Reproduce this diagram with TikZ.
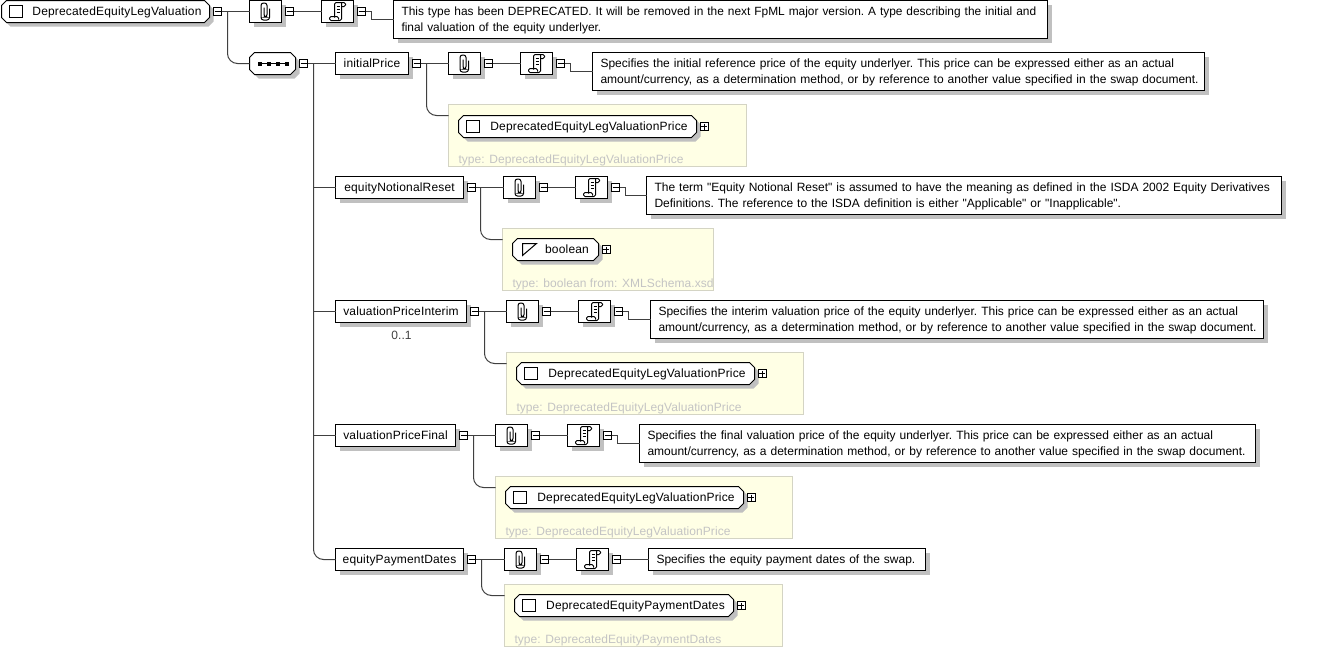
\documentclass[tikz,border=0pt]{standalone}
\usepackage{fontspec}
\newfontfamily\docfont{Liberation Sans}
\newfontfamily\labelfont[LetterSpace=1.4]{Liberation Sans}
\newfontfamily\typefont[LetterSpace=0.6]{Liberation Sans}
\usepackage{xcolor}
\usetikzlibrary{shadows}

\definecolor{wiregray}{HTML}{404040}
\definecolor{shadegray}{HTML}{C0C0C0}
\definecolor{typefill}{HTML}{FFFFE5}
\definecolor{typeline}{HTML}{D4D4C4}
\definecolor{typetext}{HTML}{C4C4C4}

\makeatletter
\pgfdeclareshape{octbox}{
  \inheritsavedanchors[from=rectangle]
  \inheritanchorborder[from=rectangle]
  \inheritanchor[from=rectangle]{center}
  \inheritanchor[from=rectangle]{base}
  \inheritanchor[from=rectangle]{north}
  \inheritanchor[from=rectangle]{south}
  \inheritanchor[from=rectangle]{east}
  \inheritanchor[from=rectangle]{west}
  \backgroundpath{
    \southwest \pgf@xa=\pgf@x \pgf@ya=\pgf@y
    \northeast \pgf@xb=\pgf@x \pgf@yb=\pgf@y
    \pgfpathmoveto{\pgfpoint{\pgf@xa+5pt}{\pgf@ya}}
    \pgfpathlineto{\pgfpoint{\pgf@xb-5pt}{\pgf@ya}}
    \pgfpathlineto{\pgfpoint{\pgf@xb}{\pgf@ya+5pt}}
    \pgfpathlineto{\pgfpoint{\pgf@xb}{\pgf@yb-5pt}}
    \pgfpathlineto{\pgfpoint{\pgf@xb-5pt}{\pgf@yb}}
    \pgfpathlineto{\pgfpoint{\pgf@xa+5pt}{\pgf@yb}}
    \pgfpathlineto{\pgfpoint{\pgf@xa}{\pgf@yb-5pt}}
    \pgfpathlineto{\pgfpoint{\pgf@xa}{\pgf@ya+5pt}}
    \pgfpathclose
  }
}
\makeatother

\begin{document}
\begin{tikzpicture}[x=1pt, y=-1pt, xshift=.5pt, yshift=-.5pt, line width=1pt, inner sep=0pt, outer sep=0pt, font=\fontsize{12}{16}\docfont\frenchspacing]
\tikzstyle{shade}=[drop shadow={shadow xshift=4pt, shadow yshift=-4pt, fill=shadegray, opacity=1}]
\tikzstyle{wire}=[color=wiregray]
\tikzstyle{elem}=[draw, fill=white, shade, minimum height=22pt, font=\fontsize{12}{16}\labelfont, text height=10.5pt, text depth=2.5pt]
\tikzstyle{doc}=[draw, fill=white, shade, align=left, inner xsep=8pt, minimum height=38pt, text height=11pt, text depth=20pt]
\tikzstyle{oct}=[shape=octbox, draw, fill=white, shade, minimum height=22pt, font=\fontsize{12}{16}\labelfont, text height=10.5pt, text depth=2.5pt]
\tikzstyle{complex}=[oct, execute at begin node=\hspace*{23pt}, path picture={
  \draw[fill=white] ([shift={(8,-6)}]path picture bounding box.west) rectangle ([shift={(21,6)}]path picture bounding box.west);}]
\tikzstyle{simple}=[oct, execute at begin node=\hspace*{23pt}, path picture={
  \draw ([shift={(10,-6)}]path picture bounding box.west) -- ([shift={(24,-6)}]path picture bounding box.west) -- ([shift={(10,6)}]path picture bounding box.west) -- cycle;}]
\tikzstyle{sequence}=[oct, path picture={
  \draw[black] ([shift={(-13,0)}]path picture bounding box.center) -- ([shift={(13,0)}]path picture bounding box.center);
  \foreach \dotx in {-13,-4,5,14}
    \fill[black] ([shift={(\dotx-2,-2)}]path picture bounding box.center) rectangle ([shift={(\dotx+2,2)}]path picture bounding box.center);}]
\tikzstyle{minus}=[draw, fill=white, minimum size=8pt, path picture={
  \draw[shift={(path picture bounding box.center)}] (-3,0) -- (3,0);}]
\tikzstyle{plus}=[draw, fill=white, minimum size=8pt, path picture={
  \draw[shift={(path picture bounding box.center)}] (-3,0) -- (3,0) (0,-3) -- (0,3);}]
\tikzstyle{clipbox}=[draw, fill=white, shade, minimum width=32pt, minimum height=22pt, path picture={
  \draw[shift={(path picture bounding box.center)}, rounded corners=2.5pt] (4,-3) -- (4,8.5) -- (-4.5,8.5) -- (-4.5,-8.5) -- (1.5,-8.5) -- (1.5,5.5) -- (-1.5,5.5) -- (-1.5,-4);}]
\tikzstyle{scrollbox}=[draw, fill=white, shade, minimum width=32pt, minimum height=22pt, path picture={
  \draw[shift={(path picture bounding box.center)}, rounded corners=1.5pt] (-3,6) -- (-3,-9) -- (8,-9) -- (8,-5) -- (4,-5);
  \draw[shift={(path picture bounding box.center)}, rounded corners=1.5pt] (4,-9) -- (4,9) -- (-8,9) -- (-8,5) -- (1,5) -- (1,8);
  \draw[shift={(path picture bounding box.center)}] (-1,-5) -- (2,-5) (-1,-2) -- (2,-2) (-1,1) -- (2,1);}]
\tikzstyle{typebox}=[draw=typeline, fill=typefill, minimum height=62pt]
\tikzstyle{typelabel}=[text=typetext, anchor=base west, font=\fontsize{12}{16}\typefont]

\useasboundingbox (-.5,-.5) rectangle (1321.5,647.5);

% root
\node[complex, minimum width=208pt] (root) at (105,11) {DeprecatedEquityLegValuation};
\node[minus] (m0) [node distance=112pt, right of=root] {};
\node[clipbox] (c0) [node distance=48pt, right of=m0] {};
\node[minus] (m0a) [node distance=24pt, right of=c0] {};
\node[scrollbox] (s0) [node distance=48pt, right of=m0a] {};
\node[minus] (m0b) [node distance=24pt, right of=s0] {};
\node[doc, text width=638pt, font=\fontsize{11.9}{16}\docfont\frenchspacing] (d0) at (720,19) {\mbox{This type has been DEPRECATED. It will be removed in the next FpML major version. A type describing the initial and}\\final valuation of the equity underlyer.};

\node[sequence, minimum width=46pt] (sq) at (272,63) {};
\node[minus] (msq) [node distance=31pt, right of=sq] {};

% initialPrice
\node[elem, minimum width=73pt] (e1) at (371.5,63) {initialPrice};
\node[minus] (m1) [node distance=44.5pt, right of=e1] {};
\node[clipbox] (c1) [node distance=48pt, right of=m1] {};
\node[minus] (m1a) [node distance=24pt, right of=c1] {};
\node[scrollbox] (s1) [node distance=48pt, right of=m1a] {};
\node[minus] (m1b) [node distance=24pt, right of=s1] {};
\node[doc, text width=596pt] (d1) at (898,71) {\mbox{Specifies the initial reference price of the equity underlyer. This price can be expressed either as an actual}\\\mbox{amount/currency, as a determination method, or by reference to another value specified in the swap document.}};
\node[typebox, minimum width=298pt] (y1) at (597,135) {};
\node[complex, minimum width=238pt] (o1) at (577,126) {DeprecatedEquityLegValuationPrice};
\node[plus] (p1) [node distance=126.5pt, right of=o1] {};
\node[typelabel] (t1) at ([shift={(10pt,3.5pt)}]y1.south west) {type: DeprecatedEquityLegValuationPrice};

% equityNotionalReset
\node[elem, minimum width=128pt] (e2) at (399,187) {equityNotionalReset};
\node[minus] (m2) [node distance=72pt, right of=e2] {};
\node[clipbox] (c2) [node distance=48pt, right of=m2] {};
\node[minus] (m2a) [node distance=24pt, right of=c2] {};
\node[scrollbox] (s2) [node distance=48pt, right of=m2a] {};
\node[minus] (m2b) [node distance=24pt, right of=s2] {};
\node[doc, text width=619pt] (d2) at (963.5,195) {\mbox{The term "Equity Notional Reset" is assumed to have the meaning as defined in the ISDA 2002 Equity Derivatives}\\Definitions. The reference to the ISDA definition is either "Applicable" or "Inapplicable".};
\node[typebox, minimum width=211pt] (y2) at (607.5,259) {};
\node[simple, minimum width=86pt] (o2) at (555,249) {boolean};
\node[plus] (p2) [node distance=50.5pt, right of=o2] {};
\node[typelabel] (t2) at ([shift={(10pt,3.5pt)}]y2.south west) {type: boolean from: XMLSchema.xsd};

% valuationPriceInterim
\node[elem, minimum width=131pt] (e3) at (400.5,311) {valuationPriceInterim};
\node[minus] (m3) [node distance=73.5pt, right of=e3] {};
\node[clipbox] (c3) [node distance=48pt, right of=m3] {};
\node[minus] (m3a) [node distance=24pt, right of=c3] {};
\node[scrollbox] (s3) [node distance=48pt, right of=m3a] {};
\node[minus] (m3b) [node distance=24pt, right of=s3] {};
\node[doc, text width=597pt] (d3) at (956.5,319) {\mbox{Specifies the interim valuation price of the equity underlyer. This price can be expressed either as an actual}\\\mbox{amount/currency, as a determination method, or by reference to another value specified in the swap document.}};
\node[text=wiregray] (n3) at (401,335) {0..1};
\node[typebox, minimum width=297pt] (y3) at (654.5,383) {};
\node[complex, minimum width=238pt] (o3) at (635,373) {DeprecatedEquityLegValuationPrice};
\node[plus] (p3) [node distance=126.5pt, right of=o3] {};
\node[typelabel] (t3) at ([shift={(10pt,3.5pt)}]y3.south west) {type: DeprecatedEquityLegValuationPrice};

% valuationPriceFinal
\node[elem, minimum width=120pt] (e4) at (395,435) {valuationPriceFinal};
\node[minus] (m4) [node distance=68pt, right of=e4] {};
\node[clipbox] (c4) [node distance=48pt, right of=m4] {};
\node[minus] (m4a) [node distance=24pt, right of=c4] {};
\node[scrollbox] (s4) [node distance=48pt, right of=m4a] {};
\node[minus] (m4b) [node distance=24pt, right of=s4] {};
\node[doc, text width=600pt] (d4) at (947,443) {\mbox{Specifies the final valuation price of the equity underlyer. This price can be expressed either as an actual}\\\mbox{amount/currency, as a determination method, or by reference to another value specified in the swap document.}};
\node[typebox, minimum width=297pt] (y4) at (643.5,507) {};
\node[complex, minimum width=238pt] (o4) at (624,497) {DeprecatedEquityLegValuationPrice};
\node[plus] (p4) [node distance=126.5pt, right of=o4] {};
\node[typelabel] (t4) at ([shift={(10pt,3.5pt)}]y4.south west) {type: DeprecatedEquityLegValuationPrice};

% equityPaymentDates
\node[elem, minimum width=128pt] (e5) at (399,559) {equityPaymentDates};
\node[minus] (m5) [node distance=72pt, right of=e5] {};
\node[clipbox] (c5) [node distance=49pt, right of=m5] {};
\node[minus] (m5a) [node distance=24pt, right of=c5] {};
\node[scrollbox] (s5) [node distance=48pt, right of=m5a] {};
\node[minus] (m5b) [node distance=24pt, right of=s5] {};
\node[doc, text width=261pt, minimum height=22pt, text height=10.5pt, text depth=2.5pt] (d5) at (786.5,559) {Specifies the equity payment dates of the swap.};
\node[typebox, minimum width=278pt] (y5) at (643,615) {};
\node[complex, minimum width=219pt] (o5) at (623.5,605) {DeprecatedEquityPaymentDates};
\node[plus] (p5) [node distance=117pt, right of=o5] {};
\node[typelabel] (t5) at ([shift={(10pt,3.5pt)}]y5.south west) {type: DeprecatedEquityPaymentDates};

\coordinate (bus0) at ([xshift=6pt]m0.east);
\coordinate (bus) at ([xshift=6pt]msq.east);

\path[wire]
(m0) edge (c0)
(m0a) edge (s0)
(msq) edge (e1)
(m1) edge (c1)
(m1a) edge (s1)
(m2) edge (c2)
(m2a) edge (s2)
(m3) edge (c3)
(m3a) edge (s3)
(m4) edge (c4)
(m4a) edge (s4)
(m5) edge (c5)
(m5a) edge (s5)
(m5b) edge (d5)
(bus |- e2) edge (e2)
(bus |- e3) edge (e3)
(bus |- e4) edge (e4);

\draw[wire] (m0b.east) -- ++(6,0) |- (d0.west);
\draw[wire] (m1b.east) -- ++(6,0) |- (d1.west);
\draw[wire] (m2b.east) -- ++(6,0) |- (d2.west);
\draw[wire] (m3b.east) -- ++(6,0) |- (d3.west);
\draw[wire] (m4b.east) -- ++(6,0) |- (d4.west);

\draw[wire, rounded corners=10pt] (bus0) |- (sq.west);
\draw[wire, rounded corners=10pt] (bus) |- (e5.west);
\draw[wire, rounded corners=10pt] ([xshift=6pt]m1.east) |- ([yshift=-11pt]y1.north west);
\draw[wire, rounded corners=10pt] ([xshift=5pt]m2.east) |- ([yshift=-11pt]y2.north west);
\draw[wire, rounded corners=10pt] ([xshift=6pt]m3.east) |- ([yshift=-11pt]y3.north west);
\draw[wire, rounded corners=10pt] ([xshift=6pt]m4.east) |- ([yshift=-11pt]y4.north west);
\draw[wire, rounded corners=10pt] ([xshift=6pt]m5.east) |- ([yshift=-11pt]y5.north west);
\end{tikzpicture}
\end{document}
